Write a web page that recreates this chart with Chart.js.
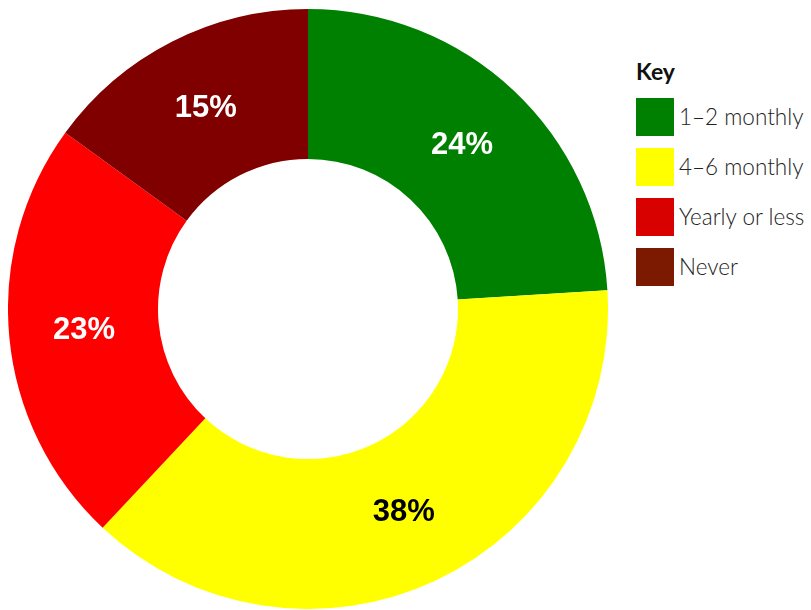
<!DOCTYPE html>
<html>
<head>
<meta charset="utf-8">
<script src="https://cdn.jsdelivr.net/npm/chart.js@4"></script>
<style>
  html,body{margin:0;padding:0;background:#fff;width:811px;height:610px;overflow:hidden;}
  #wrap{position:absolute;left:8px;top:9px;width:600px;height:600px;}
  #legend{position:absolute;left:636px;top:54px;font-family:Lato,"Open Sans",sans-serif;color:#222;}
  #legend .title{font-weight:700;font-size:23px;color:#111;height:40px;line-height:34px;}
  #legend .item{position:absolute;left:0;height:38px;white-space:nowrap;}
  #legend .box{position:absolute;left:0;top:0;width:38px;height:38px;}
  #legend .lbl{position:absolute;left:43px;top:0;line-height:38px;font-size:22.5px;font-weight:300;color:#222;}
</style>
</head>
<body>
<div id="wrap"><canvas id="c"></canvas></div>
<div id="legend"></div>
<script>
const categories = ["1–2 monthly", "4–6 monthly", "Yearly or less", "Never"];
const values = [24, 38, 23, 15];
const sliceColors = ["#008000", "#ffff00", "#ff0000", "#800000"];
const keyColors = ["#008000", "#ffff00", "#d90000", "#7b1a00"];
const labelColors = ["#ffffff", "#000000", "#ffffff", "#ffffff"];
const legendTitle = "Key";

const lg = document.getElementById('legend');
const t = document.createElement('div'); t.className='title'; t.textContent = legendTitle; lg.appendChild(t);
categories.forEach((c,i)=>{
  const it = document.createElement('div'); it.className='item'; it.style.top = (44 + i*50) + 'px';
  const b = document.createElement('div'); b.className='box'; b.style.background = keyColors[i];
  const l = document.createElement('div'); l.className='lbl'; l.textContent = c;
  it.appendChild(b); it.appendChild(l); lg.appendChild(it);
});

const pctLabels = {
  id: 'pctLabels',
  afterDatasetsDraw(chart){
    const ctx = chart.ctx;
    const meta = chart.getDatasetMeta(0);
    ctx.save();
    ctx.font = 'bold 31px "Liberation Sans", Arial, sans-serif';
    ctx.textAlign = 'center';
    ctx.textBaseline = 'middle';
    meta.data.forEach((arc,i)=>{
      const p = arc.tooltipPosition();
      ctx.fillStyle = labelColors[i];
      ctx.fillText(values[i] + '%', p.x, p.y);
    });
    ctx.restore();
  }
};

new Chart(document.getElementById('c'), {
  type: 'doughnut',
  data: {
    labels: categories,
    datasets: [{ data: values, backgroundColor: sliceColors, borderWidth: 0, hoverOffset: 0 }]
  },
  options: {
    responsive: true,
    maintainAspectRatio: false,
    animation: false,
    cutout: '50%',
    layout: { padding: 0 },
    plugins: { legend: { display: false }, tooltip: { enabled: false } }
  },
  plugins: [pctLabels]
});
</script>
</body>
</html>
